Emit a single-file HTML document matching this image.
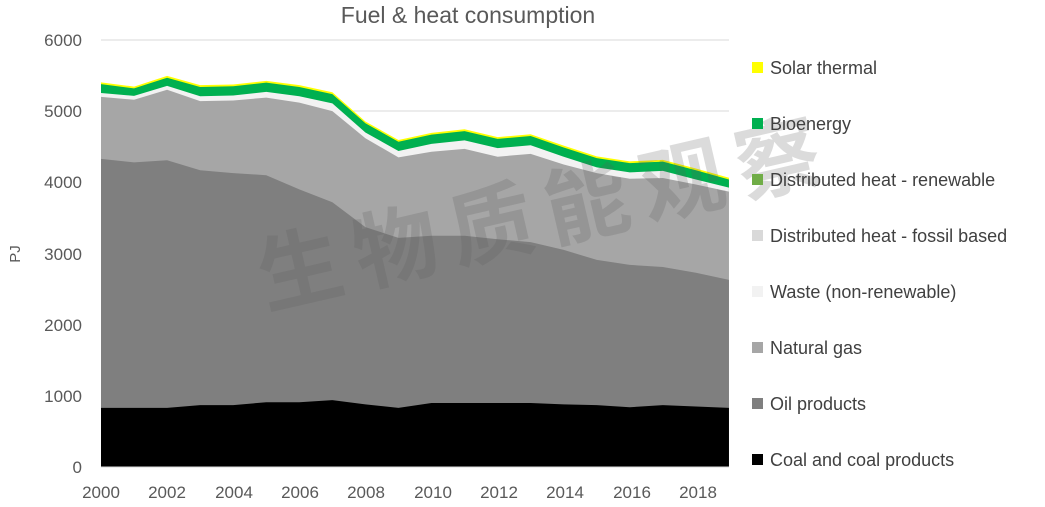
<!DOCTYPE html><html><head><style>body{margin:0;background:#fff;width:1045px;height:502px;overflow:hidden;font-family:"Liberation Sans","Noto Sans CJK SC",sans-serif}</style></head><body>
<svg width="1045" height="502" xmlns="http://www.w3.org/2000/svg" font-family="Liberation Sans, Noto Sans CJK SC, sans-serif">
<text x="468" y="23" font-size="23" fill="#595959" text-anchor="middle">Fuel &amp; heat consumption</text>
<g stroke="#d9d9d9" stroke-width="1">
<line x1="101" x2="729" y1="40" y2="40"/><line x1="101" x2="729" y1="111" y2="111"/><line x1="101" x2="729" y1="182" y2="182"/><line x1="101" x2="729" y1="254" y2="254"/><line x1="101" x2="729" y1="325" y2="325"/><line x1="101" x2="729" y1="396" y2="396"/></g>
<g font-size="17" fill="#595959" text-anchor="end">
<text x="82" y="46">6000</text><text x="82" y="117">5000</text><text x="82" y="188">4000</text><text x="82" y="260">3000</text><text x="82" y="331">2000</text><text x="82" y="402">1000</text><text x="82" y="473">0</text></g>
<text transform="translate(20,254) rotate(-90)" font-size="15" fill="#595959" text-anchor="middle">PJ</text>
<g id="areas"></g>
<g stroke="#d9d9d9"><line x1="101" x2="729" y1="467" y2="467"/></g>
<g font-size="17" fill="#595959" text-anchor="middle">
<text x="101" y="498">2000</text><text x="167" y="498">2002</text><text x="234" y="498">2004</text><text x="300" y="498">2006</text><text x="366" y="498">2008</text><text x="433" y="498">2010</text><text x="499" y="498">2012</text><text x="565" y="498">2014</text><text x="632" y="498">2016</text><text x="698" y="498">2018</text></g>
<text transform="translate(266,308) rotate(-13)" font-size="84" font-weight="bold" fill="#5a5a5a" fill-opacity="0.22" letter-spacing="14">生物质能观察</text>
<g font-size="18" fill="#404040">
<rect x="752" y="62" width="11" height="11" fill="#ffff00"/><text x="770" y="74">Solar thermal</text>
<rect x="752" y="118" width="11" height="11" fill="#00b050"/><text x="770" y="130">Bioenergy</text>
<rect x="752" y="174" width="11" height="11" fill="#70ad47"/><text x="770" y="186">Distributed heat - renewable</text>
<rect x="752" y="230" width="11" height="11" fill="#d9d9d9"/><text x="770" y="242">Distributed heat - fossil based</text>
<rect x="752" y="286" width="11" height="11" fill="#f2f2f2"/><text x="770" y="298">Waste (non-renewable)</text>
<rect x="752" y="342" width="11" height="11" fill="#a6a6a6"/><text x="770" y="354">Natural gas</text>
<rect x="752" y="398" width="11" height="11" fill="#7f7f7f"/><text x="770" y="410">Oil products</text>
<rect x="752" y="454" width="11" height="11" fill="#000"/><text x="770" y="466">Coal and coal products</text></g>
</svg>
<script>
(function(){
var coal=[830,830,830,870,870,910,910,940,880,830,900,900,900,900,880,870,840,870,850,830];
var oil=[4330,4280,4310,4170,4130,4100,3900,3720,3370,3220,3250,3250,3200,3160,3050,2910,2840,2810,2730,2630];
var gas=[5200,5160,5300,5140,5150,5190,5120,5000,4620,4350,4430,4470,4360,4400,4250,4130,4050,4060,3970,3870];
var tot=[5380,5320,5470,5340,5350,5400,5340,5240,4830,4570,4670,4720,4610,4650,4490,4340,4270,4290,4170,4040];
function X(i){return 101+i*33.05}function Y(v){return 467-v*0.07117}
function band(hi,c){var d='M'+X(0)+','+Y(0)+' ';for(var i=0;i<20;i++)d+='L'+X(i)+','+Y(hi[i])+' ';d+='L'+X(19)+','+Y(0)+' Z';return '<path d="'+d+'" fill="'+c+'"/>'}
var yl=tot.map(function(v){return v+25});
var wh=gas.map(function(v,i){return Math.max(v+55,tot[i]-130)});
var s=band(yl,'#ffff00')+band(tot,'#00b050')+band(wh,'#f2f2f2')+band(gas,'#a6a6a6')+band(oil,'#7f7f7f')+band(coal,'#000');
document.getElementById('areas').innerHTML=s;
})();
</script>
</body></html>
